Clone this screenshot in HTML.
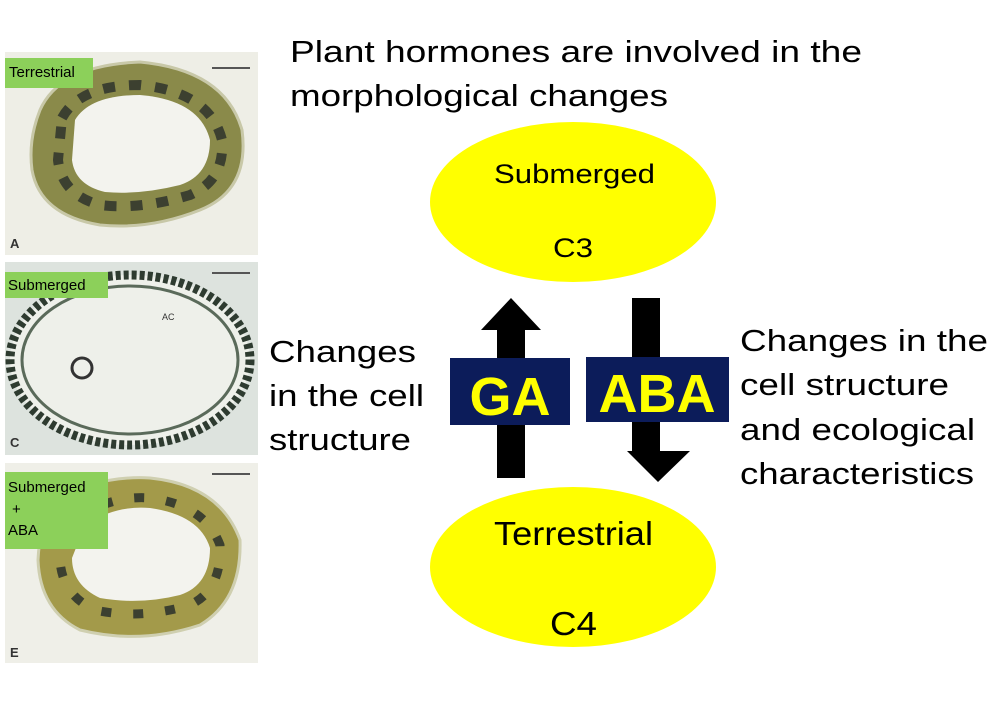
<!DOCTYPE html>
<html><head><style>
body{margin:0;background:#fff;}
svg{display:block;font-family:"Liberation Sans",sans-serif;}
</style></head><body>
<svg width="999" height="720" viewBox="0 0 999 720">
<!-- Panel A -->
<rect x="5" y="52" width="253" height="203" fill="#eeeee6"/>
<path d="M40,110 Q60,65 140,62 Q225,70 242,130 Q250,190 200,210 Q150,230 100,225 Q40,215 32,170 Q28,140 40,110Z" fill="#8a8a4a" stroke="#c8c8a8" stroke-width="3"/>
<path d="M62,118 Q80,85 140,85 Q210,92 222,140 Q225,180 190,195 Q140,210 100,205 Q62,195 58,160Z" fill="none" stroke="#3c4030" stroke-width="10" stroke-dasharray="12 14"/>
<path d="M75,120 Q90,95 140,95 Q200,100 210,140 Q210,175 180,185 Q140,195 105,192 Q75,185 72,160Z" fill="#f3f3ee"/>
<rect x="5" y="58" width="88" height="30" fill="#8cd05a"/>
<text x="9" y="77" font-size="15">Terrestrial</text>
<line x1="212" y1="68" x2="250" y2="68" stroke="#555" stroke-width="2"/>
<text x="10" y="248" font-size="13" font-weight="bold" fill="#333">A</text>
<!-- Panel C -->
<rect x="5" y="262" width="253" height="193" fill="#dde3de"/>
<ellipse cx="130" cy="360" rx="120" ry="85" fill="#eef0ea" stroke="#2e3b30" stroke-width="9" stroke-dasharray="5 3"/>
<ellipse cx="130" cy="360" rx="108" ry="74" fill="none" stroke="#5a6a5a" stroke-width="3"/>
<circle cx="82" cy="368" r="10" fill="none" stroke="#333" stroke-width="3"/>
<text x="162" y="320" font-size="9" fill="#333">AC</text>
<rect x="5" y="272" width="103" height="26" fill="#8cd05a"/>
<text x="8" y="290" font-size="15">Submerged</text>
<line x1="212" y1="273" x2="250" y2="273" stroke="#555" stroke-width="2"/>
<text x="10" y="447" font-size="13" font-weight="bold" fill="#333">C</text>
<!-- Panel E -->
<rect x="5" y="463" width="253" height="200" fill="#efefe8"/>
<path d="M55,500 Q100,475 150,478 Q220,485 240,540 Q242,600 200,625 Q140,645 80,630 Q40,610 38,560 Q40,520 55,500Z" fill="#a39a4a" stroke="#cfcfb0" stroke-width="3"/>
<path d="M75,520 Q110,495 150,498 Q205,505 220,545 Q222,590 190,605 Q140,620 95,610 Q62,595 60,560Z" fill="none" stroke="#3c4030" stroke-width="9" stroke-dasharray="10 22"/>
<path d="M85,525 Q115,505 150,508 Q200,515 210,548 Q210,585 180,595 Q140,605 100,598 Q72,585 72,558Z" fill="#f3f3ee"/>
<rect x="5" y="472" width="103" height="77" fill="#8cd05a"/>
<text x="8" y="492" font-size="15">Submerged</text>
<text x="12" y="514" font-size="15">+</text>
<text x="8" y="535" font-size="15">ABA</text>
<line x1="212" y1="474" x2="250" y2="474" stroke="#555" stroke-width="2"/>
<text x="10" y="657" font-size="13" font-weight="bold" fill="#333">E</text>
<!-- Title -->
<text x="290" y="62" font-size="31" textLength="572" lengthAdjust="spacingAndGlyphs">Plant hormones are involved in the</text>
<text x="290" y="106" font-size="31" textLength="378" lengthAdjust="spacingAndGlyphs">morphological changes</text>
<!-- Ellipses -->
<ellipse cx="573" cy="202" rx="143" ry="80" fill="#ffff00"/>
<text x="494" y="183" font-size="27" textLength="161" lengthAdjust="spacingAndGlyphs">Submerged</text>
<text x="553" y="257" font-size="27" textLength="40" lengthAdjust="spacingAndGlyphs">C3</text>
<ellipse cx="573" cy="567" rx="143" ry="80" fill="#ffff00"/>
<text x="494" y="545" font-size="33" textLength="159" lengthAdjust="spacingAndGlyphs">Terrestrial</text>
<text x="550" y="635" font-size="33" textLength="47" lengthAdjust="spacingAndGlyphs">C4</text>
<!-- Arrows -->
<rect x="497" y="328" width="28" height="150" fill="#000"/>
<polygon points="481,330 541,330 511,298" fill="#000"/>
<rect x="632" y="298" width="28" height="155" fill="#000"/>
<polygon points="627,451 690,451 658,482" fill="#000"/>
<rect x="450" y="358" width="120" height="67" fill="#0c1c5a"/>
<text x="510" y="415" font-size="54" font-weight="bold" fill="#ffff00" text-anchor="middle">GA</text>
<rect x="586" y="357" width="143" height="65" fill="#0c1c5a"/>
<text x="657" y="412" font-size="54" font-weight="bold" fill="#ffff00" text-anchor="middle">ABA</text>
<!-- Side text -->
<text x="269" y="362" font-size="31" textLength="147" lengthAdjust="spacingAndGlyphs">Changes</text>
<text x="269" y="406" font-size="31" textLength="155" lengthAdjust="spacingAndGlyphs">in the cell</text>
<text x="269" y="450" font-size="31" textLength="142" lengthAdjust="spacingAndGlyphs">structure</text>
<text x="740" y="351" font-size="31" textLength="248" lengthAdjust="spacingAndGlyphs">Changes in the</text>
<text x="740" y="395" font-size="31" textLength="209" lengthAdjust="spacingAndGlyphs">cell structure</text>
<text x="740" y="440" font-size="31" textLength="235" lengthAdjust="spacingAndGlyphs">and ecological</text>
<text x="740" y="484" font-size="31" textLength="234" lengthAdjust="spacingAndGlyphs">characteristics</text>
</svg>
</body></html>
